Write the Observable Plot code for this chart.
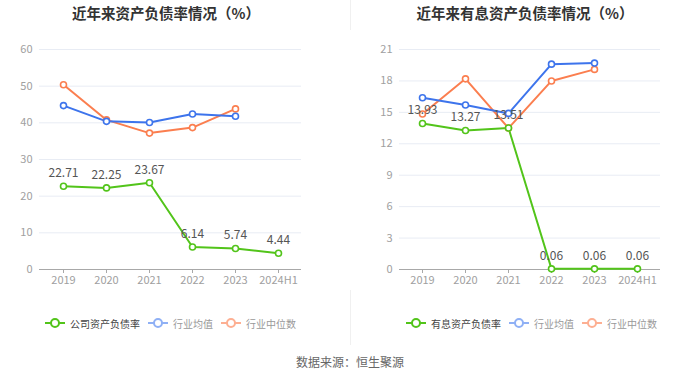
<!DOCTYPE html>
<html>
<head>
<meta charset="utf-8">
<script src="https://cdn.jsdelivr.net/npm/d3@7"></script>
<script src="https://cdn.jsdelivr.net/npm/@observablehq/plot@0.6"></script>
<style>
  html, body { margin: 0; padding: 0; background: #fff; }
  body { width: 700px; height: 377px; overflow: hidden; font-family: "Noto Sans CJK SC", "Noto Sans", sans-serif; }
  #wrap { position: relative; width: 700px; height: 377px; }
  .panel { position: absolute; top: 0; width: 350px; height: 345px; }
  .title { height: 30px; line-height: 26px; font-size: 14.5px; font-weight: bold; color: #333; text-align: center; white-space: nowrap; }
  .legend { position: absolute; top: 315px; height: 16px; display: flex; align-items: center; font-size: 10px; white-space: nowrap; }
  .legend .item { display: flex; align-items: center; margin-right: 8px; }
  .legend svg { margin-right: 5px; }
  #divider { position: absolute; left: 350px; top: 0; width: 1px; height: 345px; background: #f0f0f0; }
  #source { position: absolute; top: 353px; left: 0; width: 700px; text-align: center; font-size: 12px; color: #666; }
</style>
</head>
<body>
<div id="wrap">
  <div class="panel" id="left" style="left:0"></div>
  <div id="divider"></div>
  <div class="panel" id="right" style="left:350px"></div>
  <div id="source">数据来源：恒生聚源</div>
</div>
<script>
const years = ["2019", "2020", "2021", "2022", "2023", "2024H1"];
const industryYears = ["2019", "2020", "2021", "2022", "2023"];

const companyDebt = [22.71, 22.25, 23.67, 6.14, 5.74, 4.44];
const industryAvgDebt = [44.7, 40.4, 40.1, 42.4, 41.8];
const industryMedDebt = [50.4, 40.8, 37.2, 38.7, 43.8];

const interestDebt = [13.93, 13.27, 13.51, 0.06, 0.06, 0.06];
const industryAvgInterest = [16.4, 15.7, 14.9, 19.6, 19.7];
const industryMedInterest = [14.85, 18.2, 13.5, 18.0, 19.1];

const leftTicks = [0, 10, 20, 30, 40, 50, 60];
const rightTicks = [0, 3, 6, 9, 12, 15, 18, 21];

const GREEN = "#52c41a", BLUE = "#3d74ec", ORANGE = "#fb7e4f";

function rows(xs, vs) { return vs.map((v, i) => ({x: xs[i], y: v})); }

function makeChart(main, avg, med, ticks, ml, mr) {
  const mainRows = rows(years, main);
  const avgRows = rows(industryYears, avg);
  const medRows = rows(industryYears, med);
  const series = [[medRows, ORANGE], [avgRows, BLUE], [mainRows, GREEN]];
  const marks = [
    Plot.gridY(ticks, {stroke: "#e8ecf4", strokeOpacity: 1}),
    Plot.axisY(ticks, {tickSize: 0, tickPadding: 7, fontSize: 11, color: "#a0a0a0", textStroke: "none", tickFormat: d => d}),
    Plot.ruleY([0], {stroke: "#a8a8a8"}),
    Plot.axisX({tickSize: 4, stroke: "#a8a8a8", fontSize: 11, color: "#a0a0a0", tickPadding: 3})
  ];
  for (const [r, c] of series) {
    marks.push(Plot.line(r, {x: "x", y: "y", stroke: c, strokeWidth: 2}));
  }
  for (const [r, c] of series) {
    marks.push(Plot.dot(r, {x: "x", y: "y", r: 3, stroke: c, strokeWidth: 1.6, fill: "#fff"}));
  }
  marks.push(Plot.text(mainRows, {x: "x", y: "y", text: d => d.y.toFixed(2), dy: -13, fontSize: 12, fill: "#555"}));
  return Plot.plot({
    width: 350,
    height: 260,
    marginTop: 19,
    marginBottom: 21,
    marginLeft: ml,
    marginRight: mr,
    style: {fontFamily: "'Noto Sans CJK SC', 'Noto Sans', sans-serif", background: "#fff"},
    x: {type: "point", domain: years, padding: 0.5, label: null},
    y: {domain: [ticks[0], ticks[ticks.length - 1]], label: null},
    marks
  });
}

function legend(items, left) {
  const div = document.createElement("div");
  div.className = "legend";
  div.style.left = left + "px";
  for (const [label, color, textColor] of items) {
    const it = document.createElement("div");
    it.className = "item";
    it.innerHTML = `<svg width="20" height="12"><line x1="0" x2="20" y1="6" y2="6" stroke="${color}" stroke-width="2"/><circle cx="10" cy="6" r="4" fill="#fff" stroke="${color}" stroke-width="2"/></svg><span style="color:${textColor}">${label}</span>`;
    div.appendChild(it);
  }
  return div;
}

function build(id, title, titlePad, main, avg, med, ticks, ml, mr, legendItems, legendLeft) {
  const panel = document.getElementById(id);
  const t = document.createElement("div");
  t.className = "title";
  t.textContent = title;
  t.style.paddingRight = titlePad + "px";
  panel.appendChild(t);
  panel.appendChild(makeChart(main, avg, med, ticks, ml, mr));
  panel.appendChild(legend(legendItems, legendLeft));
}

build("left", "近年来资产负债率情况（%）", 18, companyDebt, industryAvgDebt, industryMedDebt, leftTicks, 39, 49,
  [["公司资产负债率", GREEN, "#444"], ["行业均值", "#8fb0f5", "#999"], ["行业中位数", "#fdaf92", "#999"]], 45);
build("right", "近年来有息资产负债率情况（%）", 0, interestDebt, industryAvgInterest, industryMedInterest, rightTicks, 49, 40,
  [["有息资产负债率", GREEN, "#444"], ["行业均值", "#8fb0f5", "#999"], ["行业中位数", "#fdaf92", "#999"]], 56);
</script>
</body>
</html>
